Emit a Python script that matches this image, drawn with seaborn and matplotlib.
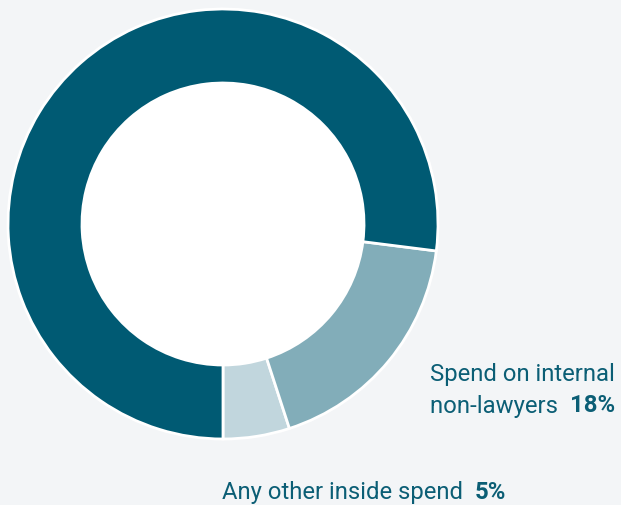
import matplotlib
matplotlib.use("Agg")
import matplotlib.pyplot as plt
import seaborn as sns
from matplotlib.patches import Circle

# Share of inside spend
categories = ["Any other inside spend", "Spend on internal\nnon-lawyers", "Internal lawyers"]
values = [5, 18, 77]
colors = ["#c1d6dd", "#82adb9", "#005a73"]

sns.set_theme(style="white")
plt.rcParams["font.family"] = ["Roboto", "DejaVu Sans"]

W, H = 621, 506
fig = plt.figure(figsize=(W / 100, H / 100), dpi=100)
bg = "#f3f5f7"
fig.patch.set_facecolor(bg)
ax = fig.add_axes([0, 0, 1, 1])
ax.set_facecolor(bg)

cx, cy, r_out, r_in = 223, H - 225, 215, 141
ax.add_patch(Circle((cx, cy), r_in, facecolor="white", edgecolor="none", zorder=0))
ax.pie(values, colors=colors, startangle=270, counterclock=True,
       center=(cx, cy), radius=r_out, frame=True,
       wedgeprops=dict(width=r_out - r_in, edgecolor="white", linewidth=2))
ax.set_xlim(0, W)
ax.set_ylim(0, H)
ax.set_aspect("equal")
ax.axis("off")

txt = "#0b5e75"
fs = 17.2
ax.text(430, H - 374, "Spend on internal", color=txt, fontsize=fs, va="center", ha="left")
t = ax.text(430, H - 406, "non-lawyers  ", color=txt, fontsize=fs, va="center", ha="left")
ax.annotate(f"{values[1]}%", xycoords=t, xy=(1, 0.5), va="center", ha="left",
            color=txt, fontsize=fs, fontweight="bold")
t2 = ax.text(222, H - 493, "Any other inside spend  ", color=txt, fontsize=fs, va="center", ha="left")
ax.annotate(f"{values[0]}%", xycoords=t2, xy=(1, 0.5), va="center", ha="left",
            color=txt, fontsize=fs, fontweight="bold")

fig.savefig("out.png", dpi=100, facecolor=bg)
